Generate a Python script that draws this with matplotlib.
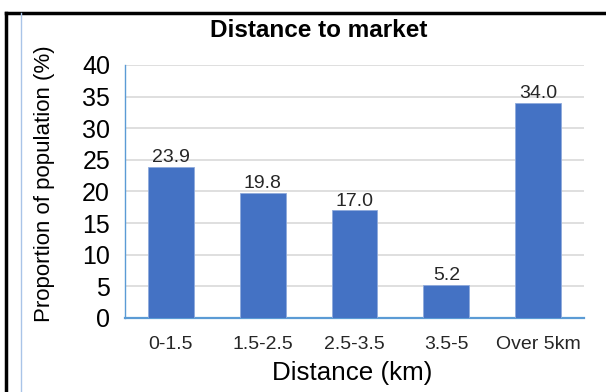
import matplotlib.pyplot as plt
from matplotlib.lines import Line2D

plt.rcParams['font.family'] = ['Liberation Sans', 'DejaVu Sans']

categories = ['0-1.5', '1.5-2.5', '2.5-3.5', '3.5-5', 'Over 5km']
shares = [23.9, 19.8, 17.0, 5.2, 34.0]
y_ticks = [0, 5, 10, 15, 20, 25, 30, 35, 40]

fig = plt.figure(figsize=(6.06, 3.92), dpi=100)
ax = fig.add_axes([0.2063, 0.1888, 0.7574, 0.6454])

x = range(len(categories))
bars = ax.bar(x, shares, width=0.5, color='#4472c4', edgecolor='#8faadc', linewidth=0.6, zorder=3)
for b, v in zip(bars, shares):
    ax.annotate(f'{v:.1f}', (b.get_x() + b.get_width() / 2, v), xytext=(0, 3.4),
                textcoords='offset points', ha='center', va='baseline',
                fontsize=14, color='#262626', zorder=4)

ax.set_xlim(-0.5, len(categories) - 0.5)
ax.set_ylim(0, 40)
ax.set_yticks(y_ticks)
ax.set_yticklabels([str(t) for t in y_ticks], fontsize=18)
ax.set_xticks(list(x))
ax.set_xticklabels(categories, fontsize=14, color='#262626')
ax.tick_params(axis='y', length=0, pad=10.8)
ax.tick_params(axis='x', length=0, pad=13)
ax.yaxis.grid(True, color='#d9d9d9', linewidth=1.2, zorder=0)

for side in ['top', 'right']:
    ax.spines[side].set_visible(False)
ax.spines['left'].set_color('#5b9bd5')
ax.spines['left'].set_linewidth(1.0)
ax.spines['bottom'].set_color('#5b9bd5')
ax.spines['bottom'].set_linewidth(1.6)

ax.set_xlabel('Distance (km)', fontsize=18.7, va='baseline')
ax.xaxis.set_label_coords(0.495, -0.245)
ax.set_ylabel('Proportion of population (%)', fontsize=16, va='center')
ax.yaxis.set_label_coords(-0.1765, 0.53)
fig.text(0.5256, 0.923, 'Distance to market', ha='center', va='center', fontsize=17.5, fontweight='bold')

# frame lines around the panel
fig.add_artist(Line2D([6 / 606, 1.0], [1 - 13 / 392] * 2, color='black', linewidth=2.5))
fig.add_artist(Line2D([6 / 606] * 2, [0, 1 - 13 / 392], color='black', linewidth=2.5))
fig.add_artist(Line2D([21 / 606] * 2, [0, 1 - 13 / 392], color='#a9c4e8', linewidth=1.0))

fig.savefig('out.png', dpi=100)
